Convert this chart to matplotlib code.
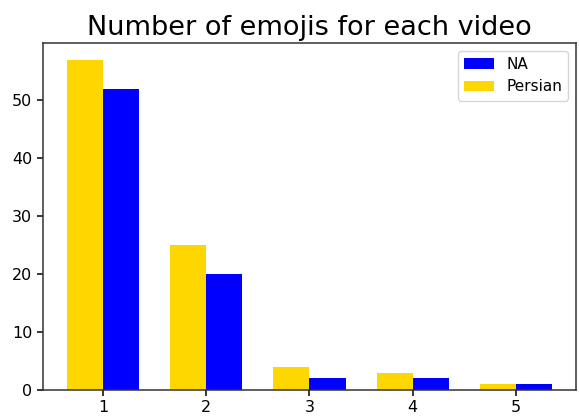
import matplotlib
matplotlib.use("Agg")
import matplotlib.pyplot as plt
import numpy as np

categories = [1, 2, 3, 4, 5]
na_values = [52, 20, 2, 2, 1]
persian_values = [57, 25, 4, 3, 1]

x = np.array(categories)
width = 0.35

fig, ax = plt.subplots(figsize=(5.79, 4.18), dpi=100)
ax.bar(x, na_values, width, align='edge', color='blue', label='NA')
ax.bar(x, persian_values, -width, align='edge', color='gold', label='Persian')
ax.set_xticks(x)
ax.tick_params(labelsize=11.5, width=1.1, length=4)
for s in ax.spines.values():
    s.set_linewidth(1.1)
    s.set_color('#333333')
ax.set_title('Number of emojis for each video', fontsize=19.5)
ax.legend(loc='upper right', fontsize=11)
fig.subplots_adjust(left=0.074, right=0.995, top=0.897, bottom=0.067)
fig.savefig('out.png', dpi=100)
